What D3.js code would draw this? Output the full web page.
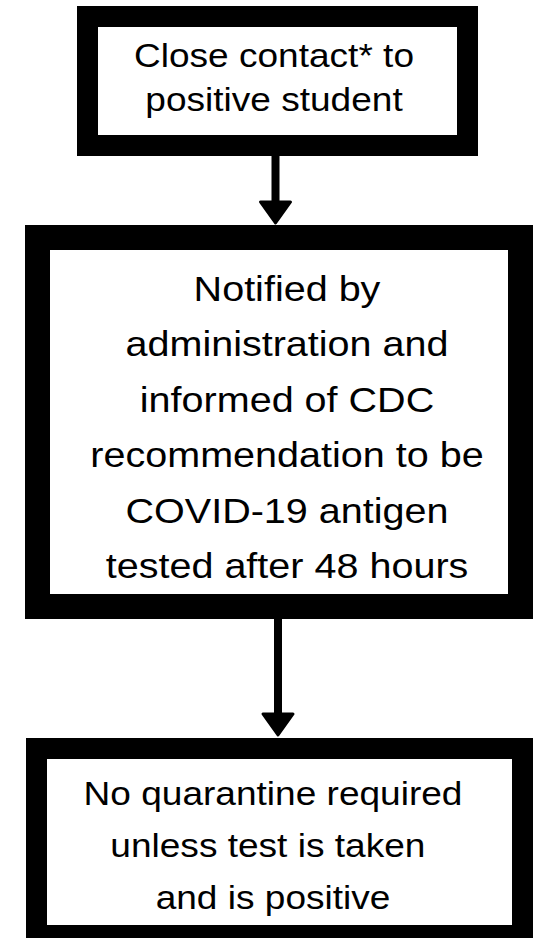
<!DOCTYPE html>
<html>
<head>
<meta charset="utf-8">
<script src="https://cdn.jsdelivr.net/npm/d3@7"></script>
<style>
  body { margin: 0; background: #fff; }
  svg { display: block; }
</style>
</head>
<body>
<div id="chart"></div>
<script>
// flowchart steps, top to bottom
var step1 = ["Close contact* to", "positive student"];
var step2 = ["Notified by", "administration and", "informed of CDC",
             "recommendation to be", "COVID-19 antigen", "tested after 48 hours"];
var step3 = ["No quarantine required", "unless test is taken ", "and is positive"];
var steps = [step1, step2, step3];

var W = 535, H = 938;

// box geometry (outer edge, border, text anchor of first line, line gap, font, x-stretch)
var boxes = [
  { x0: 77, x1: 478, y0: 6,   y1: 156, bw: 21, tx: 274, ty: 67,  gap: 43.5, fs: 34, sx: 1.09 },
  { x0: 25, x1: 533, y0: 225, y1: 619, bw: 25, tx: 287, ty: 301, gap: 55.4, fs: 35, sx: 1.13 },
  { x0: 26, x1: 533, y0: 738, y1: 946, bw: 21, tx: 273, ty: 805, gap: 52,   fs: 34, sx: 1.09 }
];
var arrows = [
  { x: 275.5, y0: 156, y1: 224 },
  { x: 278,   y0: 619, y1: 736 }
];

var svg = d3.select("#chart").append("svg")
    .attr("width", W)
    .attr("height", H);

var g = svg.selectAll("g.step")
    .data(boxes)
    .enter().append("g")
    .attr("class", "step");

g.append("rect")
    .attr("x", function(d){ return d.x0; })
    .attr("y", function(d){ return d.y0; })
    .attr("width", function(d){ return d.x1 - d.x0; })
    .attr("height", function(d){ return d.y1 - d.y0; })
    .attr("fill", "#000");

g.append("rect")
    .attr("x", function(d){ return d.x0 + d.bw; })
    .attr("y", function(d){ return d.y0 + d.bw; })
    .attr("width", function(d){ return d.x1 - d.x0 - 2 * d.bw; })
    .attr("height", function(d){ return d.y1 - d.y0 - 2 * d.bw; })
    .attr("fill", "#fff");

g.each(function(d, i) {
    d3.select(this).selectAll("text")
        .data(steps[i])
        .enter().append("text")
        .attr("transform", function(t, j){
            return "translate(" + d.tx + "," + (d.ty + j * d.gap) + ") scale(" + d.sx + ",1)";
        })
        .attr("text-anchor", "middle")
        .attr("font-family", "'Liberation Sans', Arial, sans-serif")
        .attr("font-size", d.fs)
        .attr("fill", "#000")
        .style("white-space", "pre")
        .text(function(t){ return t; });
});

// arrows
var a = svg.selectAll("g.arrow")
    .data(arrows)
    .enter().append("g")
    .attr("class", "arrow");

a.append("rect")
    .attr("x", function(d){ return d.x - 4; })
    .attr("y", function(d){ return d.y0; })
    .attr("width", 8)
    .attr("height", function(d){ return d.y1 - d.y0 - 20; });

a.append("path")
    .attr("d", function(d){
        var hy = d.y1 - 22;
        return "M" + (d.x - 15) + "," + hy + "L" + (d.x + 15) + "," + hy +
               "L" + d.x + "," + (d.y1 - 1) + "Z";
    })
    .attr("fill", "#000")
    .attr("stroke", "#000")
    .attr("stroke-width", 3)
    .attr("stroke-linejoin", "round");
</script>
</body>
</html>
